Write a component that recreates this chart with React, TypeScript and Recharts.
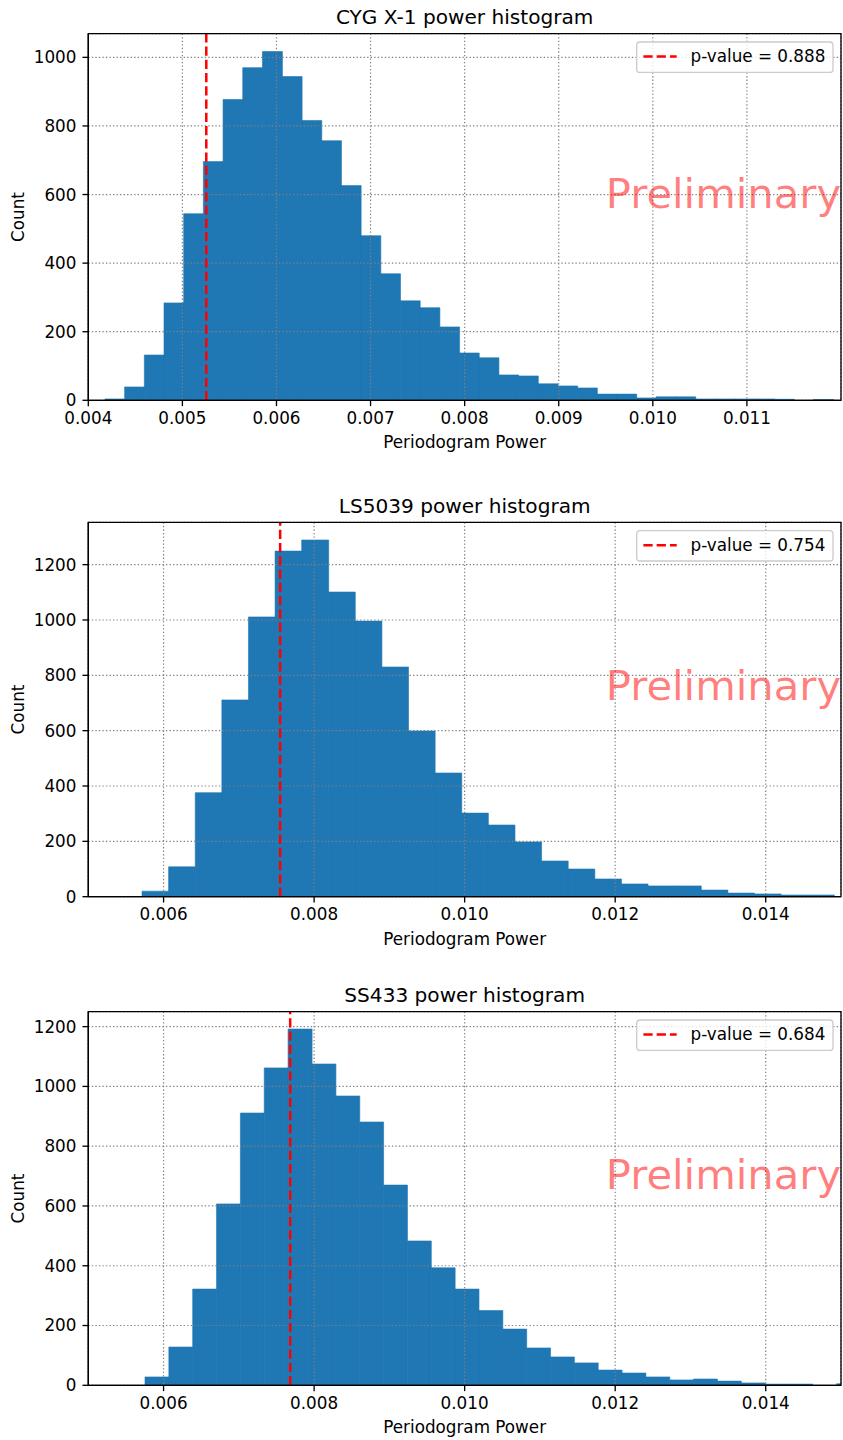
import React from 'react';
import {
  ComposedChart,
  Bar,
  XAxis,
  YAxis,
  CartesianGrid,
  ReferenceLine,
  ReferenceArea,
} from 'recharts';

const FONT = 'DejaVu Sans';
const BLUE = '#1f77b4';

// ---- CYG X-1 ----
const cygTitle = 'CYG X-1 power histogram';
const cygBinStart = 0.004177;
const cygBinWidth = 0.0002092;
const cygCounts = [
  4, 39, 132, 284, 544, 696, 877, 970, 1017, 944, 816, 757, 626, 480, 369, 290,
  270, 214, 138, 124, 74, 71, 48, 42, 36, 18, 18, 7, 10, 10, 4, 4, 4, 4, 3, 0, 2,
];
const cygXTicks = [0.004, 0.005, 0.006, 0.007, 0.008, 0.009, 0.01, 0.011];
const cygYTicks = [0, 200, 400, 600, 800, 1000];
const cygXDomain = [0.004, 0.012];
const cygYDomain = [0, 1069];
const cygLineX = 0.005254;
const cygLegend = 'p-value = 0.888';

// ---- LS5039 ----
const lsTitle = 'LS5039 power histogram';
const lsBinStart = 0.0057134;
const lsBinWidth = 0.00035359;
const lsCounts = [
  20, 108, 376, 711, 1011, 1249, 1289, 1101, 996, 830, 599, 447, 302, 259, 198,
  129, 100, 64, 46, 39, 39, 24, 13, 10, 6, 6,
];
const lsXTicks = [0.006, 0.008, 0.01, 0.012, 0.014];
const lsYTicks = [0, 200, 400, 600, 800, 1000, 1200];
const lsXDomain = [0.005, 0.015];
const lsYDomain = [0, 1353];
const lsLineX = 0.007549;
const lsLegend = 'p-value = 0.754';

// ---- SS433 ----
const ssTitle = 'SS433 power histogram';
const ssBinStart = 0.0057533;
const ssBinWidth = 0.00031681;
const ssCounts = [
  28, 128, 322, 607, 911, 1062, 1192, 1075, 968, 881, 670, 483, 393, 322, 250,
  188, 125, 95, 75, 51, 41, 28, 18, 21, 14, 8, 4, 4, 0, 5,
];
const ssXTicks = [0.006, 0.008, 0.01, 0.012, 0.014];
const ssYTicks = [0, 200, 400, 600, 800, 1000, 1200];
const ssXDomain = [0.005, 0.015];
const ssYDomain = [0, 1250];
const ssLineX = 0.007682;
const ssLegend = 'p-value = 0.684';

const xLabel = 'Periodogram Power';
const yLabel = 'Count';
const watermark = 'Preliminary';

const buildBins = (start: number, width: number, counts: number[]) =>
  counts.map((c, i) => ({ x: start + (i + 0.5) * width, count: c }));

const PLOT_LEFT = 88.3;
const PLOT_RIGHT = 841;
const X_AXIS_H = 60;

type PanelProps = {
  data: { x: number; count: number }[];
  xDomain: number[];
  yDomain: number[];
  xTicks: number[];
  yTicks: number[];
  lineX: number;
  plotTop: number;
  plotBottom: number;
  divTop: number;
};

const Panel = ({ data, xDomain, yDomain, xTicks, yTicks, lineX, plotTop, plotBottom, divTop }: PanelProps) => {
  const height = plotBottom - divTop + X_AXIS_H;
  const tickStyle = { fill: '#000', fontSize: 16.8, fontFamily: FONT };
  const lineStyle = { stroke: '#000', strokeWidth: 1.33 };
  return (
    <div style={{ position: 'absolute', left: 0, top: divTop, width: 843, height }}>
      <ComposedChart
        width={843}
        height={height}
        data={data}
        margin={{ top: plotTop - divTop, right: 843 - PLOT_RIGHT, bottom: 0, left: PLOT_LEFT - 60 }}
        barCategoryGap={0}
        barGap={0}
        style={{ fontFamily: FONT }}
      >
        <XAxis
          dataKey="x"
          type="number"
          domain={xDomain}
          ticks={xTicks}
          allowDataOverflow
          interval={0}
          height={X_AXIS_H}
          tickSize={5.83}
          tickMargin={6}
          tick={tickStyle}
          axisLine={lineStyle}
          tickLine={lineStyle}
          tickFormatter={(v: number) => v.toFixed(3)}
        />
        <YAxis
          type="number"
          domain={yDomain}
          ticks={yTicks}
          allowDataOverflow
          interval={0}
          width={60}
          tickSize={5.83}
          tickMargin={6}
          tick={tickStyle}
          axisLine={lineStyle}
          tickLine={lineStyle}
        />
        <Bar
          dataKey="count"
          fill={BLUE}
          stroke={BLUE}
          strokeWidth={0.6}
          isAnimationActive={false}
          zIndex={300}
        />
        <CartesianGrid
          stroke="#808080"
          strokeWidth={1.2}
          strokeDasharray="1.33 2.2"
          zIndex={350}
        />
        <ReferenceLine
          x={lineX}
          stroke="#ff0000"
          strokeWidth={2.5}
          strokeDasharray="9.25 4"
          zIndex={450}
        />
        <ReferenceArea
          x1={xDomain[0]}
          x2={xDomain[1]}
          y1={yDomain[0]}
          y2={yDomain[1]}
          fill="none"
          fillOpacity={0}
          stroke="#000"
          strokeWidth={1.33}
          strokeOpacity={1}
          ifOverflow="visible"
          zIndex={550}
        />
      </ComposedChart>
    </div>
  );
};

type DecoProps = { title: string; legend: string; plotTop: number; plotBottom: number };

const Decorations = ({ title, legend, plotTop, plotBottom }: DecoProps) => {
  const cx = (PLOT_LEFT + PLOT_RIGHT) / 2;
  const cy = (plotTop + plotBottom) / 2;
  const boxTop = plotTop + 8.33;
  return (
    <g fontFamily={FONT}>
      <text x={cx} y={plotTop - 9.5} textAnchor="middle" fontSize={20.1} fill="#000">
        {title}
      </text>
      <text x={cx} y={plotBottom + 47.8} textAnchor="middle" fontSize={16.8} fill="#000">
        {xLabel}
      </text>
      <text
        x={23.8}
        y={cy}
        textAnchor="middle"
        fontSize={16.8}
        fill="#000"
        transform={`rotate(-90, 23.8, ${cy})`}
      >
        {yLabel}
      </text>
      <text x={605.8} y={cy - 9.5} fontSize={41.67} fill="#ff0000" fillOpacity={0.5}>
        {watermark}
      </text>
      <rect
        x={636.7}
        y={boxTop}
        width={196.3}
        height={30.4}
        rx={3.3}
        ry={3.3}
        fill="#fff"
        fillOpacity={0.8}
        stroke="#cccccc"
        strokeWidth={1.33}
      />
      <line
        x1={643.4}
        x2={676.7}
        y1={boxTop + 14.5}
        y2={boxTop + 14.5}
        stroke="#ff0000"
        strokeWidth={2.5}
        strokeDasharray="9.25 4"
      />
      <text x={690.5} y={boxTop + 20.3} fontSize={16.8} fill="#000">
        {legend}
      </text>
    </g>
  );
};

const panels = [
  {
    title: cygTitle, legend: cygLegend,
    data: buildBins(cygBinStart, cygBinWidth, cygCounts),
    xDomain: cygXDomain, yDomain: cygYDomain, xTicks: cygXTicks, yTicks: cygYTicks,
    lineX: cygLineX, plotTop: 33.7, plotBottom: 400.3, divTop: 0,
  },
  {
    title: lsTitle, legend: lsLegend,
    data: buildBins(lsBinStart, lsBinWidth, lsCounts),
    xDomain: lsXDomain, yDomain: lsYDomain, xTicks: lsXTicks, yTicks: lsYTicks,
    lineX: lsLineX, plotTop: 522.3, plotBottom: 896.7, divTop: 490,
  },
  {
    title: ssTitle, legend: ssLegend,
    data: buildBins(ssBinStart, ssBinWidth, ssCounts),
    xDomain: ssXDomain, yDomain: ssYDomain, xTicks: ssXTicks, yTicks: ssYTicks,
    lineX: ssLineX, plotTop: 1011.7, plotBottom: 1385.3, divTop: 980,
  },
];

export default function App() {
  return (
    <div style={{ position: 'relative', width: 843, height: 1440, background: '#fff', overflow: 'hidden' }}>
      <style>{'body{margin:0;}'}</style>
      {panels.map((p, i) => (
        <Panel
          key={i}
          data={p.data}
          xDomain={p.xDomain}
          yDomain={p.yDomain}
          xTicks={p.xTicks}
          yTicks={p.yTicks}
          lineX={p.lineX}
          plotTop={p.plotTop}
          plotBottom={p.plotBottom}
          divTop={p.divTop}
        />
      ))}
      <svg
        width={843}
        height={1440}
        style={{ position: 'absolute', left: 0, top: 0, pointerEvents: 'none' }}
      >
        {panels.map((p, i) => (
          <Decorations key={i} title={p.title} legend={p.legend} plotTop={p.plotTop} plotBottom={p.plotBottom} />
        ))}
      </svg>
    </div>
  );
}
